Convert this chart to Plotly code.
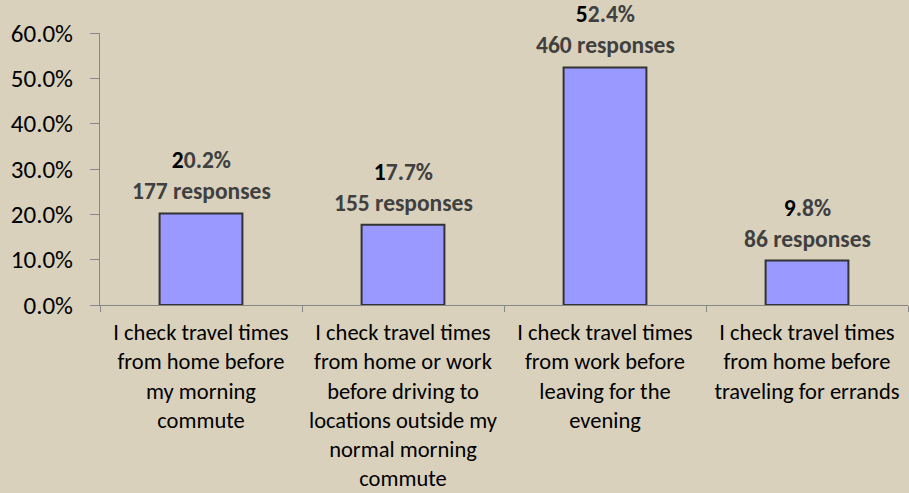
import plotly.graph_objects as go

categories = [
    "I check travel times<br>from home before<br>my morning<br>commute",
    "I check travel times<br>from home or work<br>before driving to<br>locations outside my<br>normal morning<br>commute",
    "I check travel times<br>from work before<br>leaving for the<br>evening",
    "I check travel times<br>from home before<br>traveling for errands",
]
percent_values = [20.2, 17.7, 52.4, 9.8]
response_counts = [177, 155, 460, 86]
y_ticks = [0, 10, 20, 30, 40, 50, 60]
y_tick_labels = ["0.0%", "10.0%", "20.0%", "30.0%", "40.0%", "50.0%", "60.0%"]

BG = "#D9D1BC"
FONT = "Carlito, Calibri, Lato, sans-serif"

fig = go.Figure()
fig.add_trace(go.Bar(
    x=categories,
    y=percent_values,
    marker=dict(color="#9999FF", line=dict(color="#333333", width=2)),
    width=0.41,
    hoverinfo="skip",
))

for cat, v, n in zip(categories, percent_values, response_counts):
    s = f"{v:.1f}%"
    txt = (f"<b><span style='color:#000000'>{s[0]}</span>{s[1:]}</b><br>"
           f"<b>{n} responses</b>")
    fig.add_annotation(
        x=cat, y=v, text=txt, showarrow=False, yanchor="bottom",
        yshift=6, font=dict(family=FONT, size=23.5, color="#404040"),
        align="center",
    )

fig.update_layout(
    width=909, height=493,
    paper_bgcolor=BG, plot_bgcolor=BG,
    margin=dict(l=100, r=1, t=33, b=188),
    showlegend=False,
    font=dict(family=FONT, size=21, color="#000000"),
)
fig.update_xaxes(
    showline=True, linecolor="#868686", linewidth=1,
    ticks="outside", tickson="boundaries", ticklen=6, tickcolor="#868686",
    showgrid=False, tickfont=dict(family=FONT, size=22.5, color="#000000"),
    ticklabelstandoff=7,
)
fig.update_yaxes(
    range=[0, 60], tickvals=y_ticks, ticktext=y_tick_labels,
    showline=True, linecolor="#868686", linewidth=1,
    ticks="outside", ticklen=9, tickcolor="#868686",
    showgrid=False, zeroline=False,
    tickfont=dict(family=FONT, size=25, color="#000000"),
    ticklabelstandoff=12,
)

fig.write_html("out.html", config={"displayModeBar": False},
               post_script="document.body.style.margin='0';")
